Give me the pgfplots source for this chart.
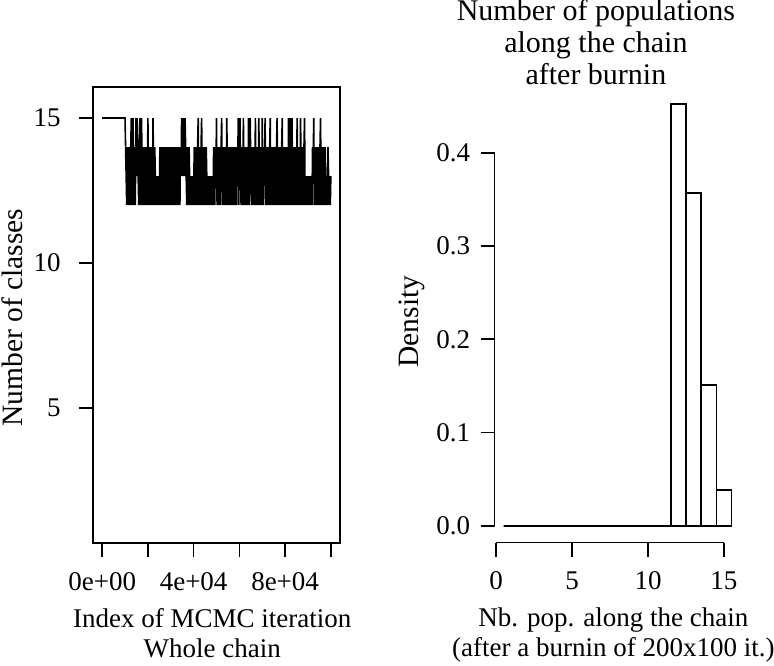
\documentclass[border=0pt]{standalone}
\usepackage{fontspec}
\setmainfont{Liberation Serif}
\usepackage{pgfplots}
\pgfplotsset{compat=1.18}
\begin{document}
\begin{tikzpicture}
\path[use as bounding box] (0,0) rectangle (387pt,332.5pt);
\pgfplotsset{
  rstyle/.style={
    scale only axis, anchor=south west,
    tick align=outside, tick pos=left, major tick length=7pt,
    every tick/.style={black, line width=0.8pt},
    axis line style={line width=0.8pt},
    tick label style={font=\fontsize{13.5}{16}\selectfont, inner sep=0pt},
    label style={font=\fontsize{13.5}{15}\selectfont, inner sep=0pt, align=center},
    ylabel style={font=\fontsize{14.75}{16}\selectfont},
    xticklabel style={anchor=base, yshift=-16.5pt},
    yticklabel style={anchor=east},
    /pgf/number format/assume math mode=true,
    scaled ticks=false,
    minor tick num=0,
    xlabel style={at={(axis description cs:0.483,0)}, anchor=north, yshift=-32.5pt},
  }
}
\begin{axis}[rstyle, at={(46.5pt,61pt)}, width=123.5pt, height=228pt,
  xmin=-4000, xmax=104000, ymin=0.345, ymax=16.07,
  xtick={0,20000,40000,60000,80000,100000},
  xticklabels={0e+00,,4e+04,,8e+04,},
  ytick={5,10,15}, yticklabels={5,10,15},
  yticklabel style={xshift=-9pt},
  xlabel={Index of MCMC iteration\\Whole chain},
  ylabel={Number of classes},
  ylabel style={at={(axis description cs:-0.2874,0.4945)}, anchor=base},
]
\addplot[black, line width=0.8pt] coordinates {
(1,15)(10000,15)
(10250,14)(10500,13)(10750,12)(11000,14)(11250,13)(11500,12)(11750,14)(12000,13)(12250,12)(12500,14)(12750,15)(13000,12)
(13250,14)(13500,15)(13750,12)(14000,14)(14250,13)(14500,12)(14750,15)(15000,13)(15250,15)(15500,14)(15750,13)(16000,12)
(16250,14)(16500,15)(16750,12)(17000,14)(17250,15)(17500,12)(17750,14)(18000,13)(18250,12)(18500,14)(18750,13)(19000,12)
(19250,14)(19500,13)(19750,12)(20000,15)(20250,13)(20500,12)(20750,14)(21000,13)(21250,12)(21500,14)(21750,13)(22000,12)
(22250,15)(22500,13)(22750,12)(23000,14)(23250,13)(23500,12)(23750,13)(24000,12)(24250,13)(24500,12)(24750,13)(25000,12)
(25250,14)(25500,13)(25750,12)(26000,14)(26250,13)(26500,12)(26750,14)(27000,13)(27250,12)(27500,14)(27750,13)(28000,12)
(28250,14)(28500,13)(28750,12)(29000,14)(29250,13)(29500,12)(29750,14)(30000,13)(30250,12)(30500,14)(30750,13)(31000,12)
(31250,14)(31500,13)(31750,12)(32000,14)(32250,13)(32500,12)(32750,14)(33000,13)(33250,12)(33500,14)(33750,13)(34000,12)
(34250,14)(34500,13)(34750,15)(35000,14)(35250,13)(35500,15)(35750,14)(36000,13)(36250,15)(36500,14)(36750,13)(37000,12)
(37250,14)(37500,13)(37750,12)(38000,14)(38250,13)(38500,12)(38750,13)(39000,12)(39250,13)(39500,12)(39750,13)(40000,12)
(40250,14)(40500,13)(40750,12)(41000,14)(41250,13)(41500,12)(41750,14)(42000,15)(42250,12)(42500,14)(42750,13)(43000,12)
(43250,14)(43500,15)(43750,12)(44000,14)(44250,13)(44500,12)(44750,14)(45000,13)(45250,12)(45500,14)(45750,13)(46000,12)
(46250,13)(46500,12)(46750,13)(47000,12)(47250,13)(47500,12)(47750,13)(48000,12)(48250,13)(48500,12)(48750,14)(49000,13)
(49250,12)(49500,14)(49750,13)(50000,15)(50250,12)(50500,14)(50750,13)(51000,12)(51250,14)(51500,13)(51750,12)(52000,14)
(52250,15)(52500,13)(52750,12)(53000,14)(53250,13)(53500,12)(53750,14)(54000,13)(54250,12)(54500,15)(54750,13)(55000,12)
(55250,14)(55500,13)(55750,12)(56000,14)(56250,13)(56500,12)(56750,14)(57000,13)(57250,12)(57500,14)(57750,13)(58000,12)
(58250,14)(58500,13)(58750,12)(59000,14)(59250,13)(59500,15)(59750,12)(60000,14)(60250,15)(60500,13)(60750,12)(61000,14)
(61250,13)(61500,12)(61750,15)(62000,13)(62250,12)(62500,14)(62750,13)(63000,12)(63250,14)(63500,13)(63750,12)(64000,15)
(64250,12)(64500,14)(64750,15)(65000,13)(65250,12)(65500,14)(65750,13)(66000,12)(66250,14)(66500,13)(66750,12)(67000,15)
(67250,13)(67500,12)(67750,14)(68000,13)(68250,12)(68500,15)(68750,13)(69000,12)(69250,14)(69500,13)(69750,12)(70000,15)
(70250,13)(70500,12)(70750,14)(71000,13)(71250,15)(71500,12)(71750,14)(72000,13)(72250,12)(72500,14)(72750,13)(73000,12)
(73250,14)(73500,15)(73750,12)(74000,14)(74250,13)(74500,12)(74750,14)(75000,13)(75250,12)(75500,14)(75750,13)(76000,12)
(76250,14)(76500,15)(76750,12)(77000,14)(77250,13)(77500,12)(77750,14)(78000,13)(78250,12)(78500,14)(78750,15)(79000,12)
(79250,14)(79500,13)(79750,12)(80000,14)(80250,13)(80500,12)(80750,14)(81000,13)(81250,12)(81500,15)(81750,13)(82000,12)
(82250,15)(82500,13)(82750,12)(83000,15)(83250,13)(83500,12)(83750,14)(84000,13)(84250,12)(84500,14)(84750,13)(85000,12)
(85250,15)(85500,13)(85750,12)(86000,14)(86250,13)(86500,12)(86750,15)(87000,13)(87250,12)(87500,14)(87750,13)(88000,12)
(88250,14)(88500,15)(88750,12)(89000,13)(89250,12)(89500,13)(89750,12)(90000,13)(90250,12)(90500,13)(90750,12)(91000,13)
(91250,12)(91500,13)(91750,12)(92000,14)(92250,13)(92500,15)(92750,12)(93000,14)(93250,13)(93500,12)(93750,14)(94000,13)
(94250,12)(94500,14)(94750,13)(95000,12)(95250,14)(95500,15)(95750,12)(96000,14)(96250,13)(96500,12)(96750,14)(97000,13)
(97250,12)(97500,14)(97750,13)(98000,12)(98250,13)(98500,12)(98750,14)(99000,13)(99250,12)(99500,13)(99750,12)(100000,13)
};
\end{axis}
\begin{axis}[rstyle, at={(247.25pt,61.25pt)}, width=123.1pt, height=227.75pt,
  xmin=-0.1, xmax=16.1, ymin=-0.018, ymax=0.4705,
  axis line style={draw=none}, clip=false,
  xtick={0,5,10,15}, xticklabels={0,5,10,15},
  ytick={0,0.1,0.2,0.3,0.4}, yticklabels={0.0,0.1,0.2,0.3,0.4},
  yticklabel style={xshift=-5pt},
  title={Number of populations\\along the chain\\after burnin},
  title style={at={(axis description cs:0.412,1)}, anchor=north, yshift=37.8pt, align=center, font=\fontsize{15}{16}\selectfont, inner sep=0pt},
  xlabel={Nb. pop. along the chain\\(after a burnin of 200x100 it.)},
  ylabel={Density},
  ylabel style={at={(axis description cs:-0.3067,0.4847)}, anchor=base},
]
\addplot[ybar interval, draw=black, fill=white, line width=0.8pt] coordinates {
(0.5,0)(1.5,0)(2.5,0)(3.5,0)(4.5,0)(5.5,0)(6.5,0)(7.5,0)(8.5,0)(9.5,0)(10.5,0)
(11.5,0.452)(12.5,0.357)(13.5,0.151)(14.5,0.038)(15.5,0.038)
};
\draw[line width=0.8pt] (axis cs:0,-0.018) -- (axis cs:15,-0.018);
\draw[line width=0.8pt] (axis cs:-0.1,0) -- (axis cs:-0.1,0.4);
\end{axis}
\end{tikzpicture}
\end{document}
